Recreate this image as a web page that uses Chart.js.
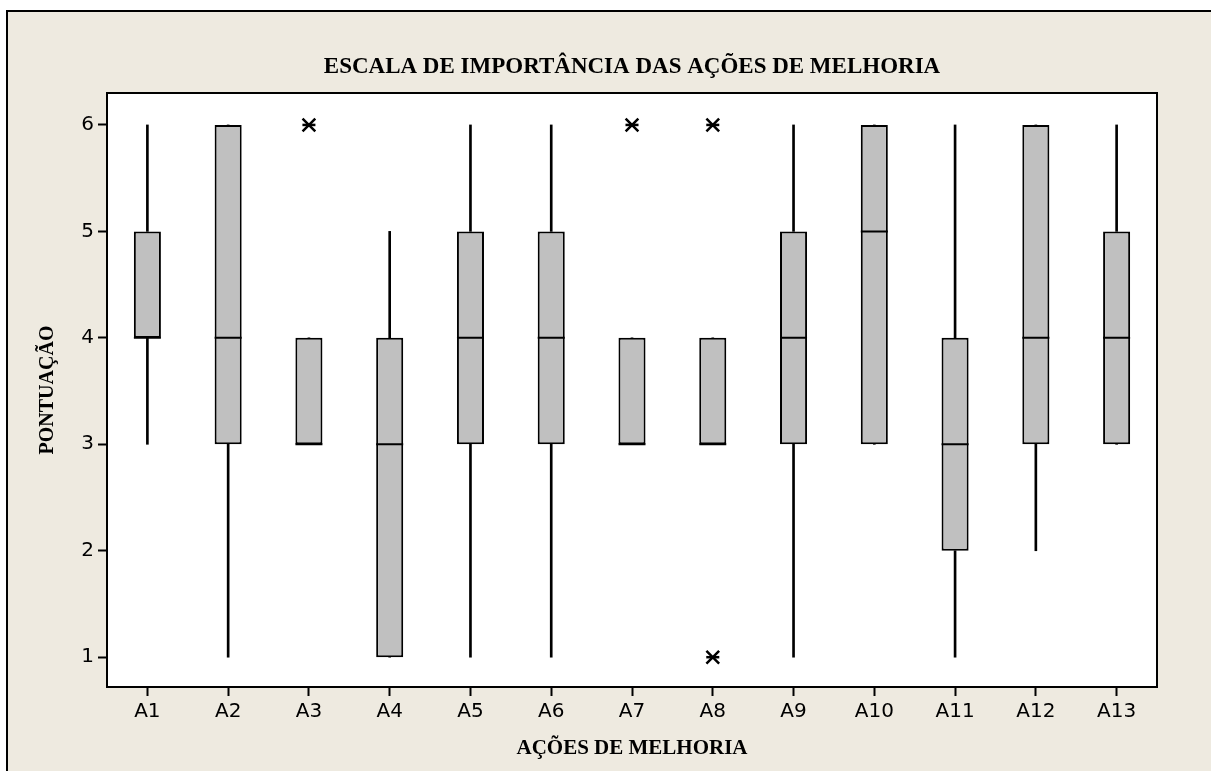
<!DOCTYPE html>
<html>
<head>
<meta charset="utf-8">
<script src="https://cdn.jsdelivr.net/npm/chart.js@4/dist/chart.umd.min.js"></script>
<style>
  html, body { margin: 0; padding: 0; background: #ffffff; }
  #wrap { width: 1211px; height: 771px; position: relative; }
</style>
</head>
<body>
<div id="wrap"><canvas id="c" width="1211" height="771"></canvas></div>
<script>
// Boxplot summary per improvement action (score 1..6)
const categories   = ['A1','A2','A3','A4','A5','A6','A7','A8','A9','A10','A11','A12','A13'];
const whiskerLow   = [3, 1, 3, 1, 1, 1, 3, 3, 1, 3, 1, 2, 3];
const q1           = [4, 3, 3, 1, 3, 3, 3, 3, 3, 3, 2, 3, 3];
const median       = [4, 4, 3, 3, 4, 4, 3, 3, 4, 5, 3, 4, 4];
const q3           = [5, 6, 4, 4, 5, 5, 4, 4, 5, 6, 4, 6, 5];
const whiskerHigh  = [6, 6, 4, 5, 6, 6, 4, 4, 6, 6, 6, 6, 6];
const outlierCategory = ['A3', 'A7', 'A8', 'A8'];
const outlierValue    = [6, 6, 6, 1];
const yTicks = [1, 2, 3, 4, 5, 6];

const titleText  = 'ESCALA DE IMPORTÂNCIA DAS AÇÕES DE MELHORIA';
const xTitleText = 'AÇÕES DE MELHORIA';
const yTitleText = 'PONTUAÇÃO';

const serif = "'Liberation Serif', 'Times New Roman', serif";
const sans  = "'DejaVu Sans', Verdana, sans-serif";

const outlierPoints = outlierCategory.map((c, i) => ({ x: c, y: outlierValue[i] }));

// Page background: beige panel with a dark frame edge, white plotting area
const framePlugin = {
  id: 'frame',
  beforeDraw(chart) {
    const { ctx, chartArea: a, width, height } = chart;
    ctx.save();
    ctx.fillStyle = '#ffffff';
    ctx.fillRect(0, 0, width, height);
    ctx.fillStyle = '#EEEAE0';
    ctx.fillRect(8, 12, width - 8, height - 12);
    ctx.strokeStyle = '#000000';
    ctx.lineWidth = 2;
    ctx.beginPath();
    ctx.moveTo(7, height);
    ctx.lineTo(7, 11);
    ctx.lineTo(width, 11);
    ctx.stroke();
    ctx.fillStyle = '#ffffff';
    ctx.fillRect(a.left, a.top, a.right - a.left, a.bottom - a.top);
    ctx.restore();
  },
  afterDraw(chart) {
    const { ctx, chartArea: a } = chart;
    ctx.save();
    ctx.strokeStyle = '#000000';
    ctx.lineWidth = 2;
    ctx.strokeRect(a.left, a.top, a.right - a.left, a.bottom - a.top);
    ctx.restore();
  }
};

const boxShare = 0.335;

new Chart(document.getElementById('c'), {
  type: 'bar',
  data: {
    labels: categories,
    datasets: [
      {
        label: 'outliers-x',
        type: 'line',
        data: outlierPoints,
        showLine: false,
        pointStyle: 'crossRot',
        pointRadius: 9,
        pointBorderWidth: 2.5,
        pointBorderColor: '#000000',
        pointBackgroundColor: '#000000',
        order: 0
      },
      {
        label: 'outliers-h',
        type: 'line',
        data: outlierPoints,
        showLine: false,
        pointStyle: 'line',
        pointRadius: 6.5,
        pointBorderWidth: 2.5,
        pointBorderColor: '#000000',
        order: 0
      },
      {
        label: 'median',
        type: 'line',
        data: median,
        showLine: false,
        pointStyle: 'line',
        pointRadius: 13.5,
        pointBorderWidth: 2,
        pointBorderColor: '#000000',
        order: 1
      },
      {
        label: 'box',
        data: categories.map((_, i) => [q1[i], q3[i]]),
        backgroundColor: '#C0C0C0',
        borderColor: '#000000',
        borderWidth: 2,
        borderSkipped: false,
        grouped: false,
        categoryPercentage: 1,
        barPercentage: boxShare,
        order: 2
      },
      {
        label: 'whisker-low',
        data: categories.map((_, i) => [whiskerLow[i], q1[i]]),
        backgroundColor: '#000000',
        borderWidth: 0,
        grouped: false,
        barThickness: 2,
        order: 3
      },
      {
        label: 'whisker-high',
        data: categories.map((_, i) => [q3[i], whiskerHigh[i]]),
        backgroundColor: '#000000',
        borderWidth: 0,
        grouped: false,
        barThickness: 2,
        order: 3
      }
    ]
  },
  options: {
    responsive: false,
    animation: false,
    devicePixelRatio: 1,
    layout: { padding: { left: 0, right: 54, top: 0, bottom: 0 } },
    plugins: {
      legend: { display: false },
      tooltip: { enabled: false },
      title: {
        display: true,
        text: titleText,
        fullSize: false,
        color: '#000000',
        font: { family: serif, size: 23, weight: 'bold' },
        padding: { top: 53, bottom: 12.4 }
      }
    },
    scales: {
      x: {
        type: 'category',
        offset: true,
        grid: {
          offset: false,
          drawOnChartArea: false,
          drawTicks: true,
          tickLength: 9,
          tickWidth: 2,
          tickColor: '#000000',
          color: '#000000'
        },
        border: { display: true, color: '#000000', width: 2 },
        ticks: {
          color: '#000000',
          font: { family: sans, size: 20 },
          padding: 4,
          maxRotation: 0
        },
        title: {
          display: true,
          text: xTitleText,
          color: '#000000',
          font: { family: serif, size: 21, weight: 'bold' },
          padding: { top: 0, bottom: 10 }
        },
        afterFit(scale) { scale.height = 84; }
      },
      y: {
        type: 'linear',
        min: 0.72,
        max: 6.3,
        afterBuildTicks(scale) { scale.ticks = yTicks.map(v => ({ value: v })); },
        grid: {
          drawOnChartArea: false,
          drawTicks: true,
          tickLength: 9,
          tickWidth: 2,
          tickColor: '#000000',
          color: '#000000'
        },
        border: { display: true, color: '#000000', width: 2 },
        ticks: {
          color: '#000000',
          font: { family: sans, size: 20 },
          padding: 4
        },
        title: {
          display: true,
          text: yTitleText,
          color: '#000000',
          font: { family: serif, size: 20, weight: 'bold' },
          padding: { top: 36, bottom: 0 }
        },
        afterFit(scale) { scale.width = 107; }
      }
    }
  },
  plugins: [framePlugin]
});
</script>
</body>
</html>
